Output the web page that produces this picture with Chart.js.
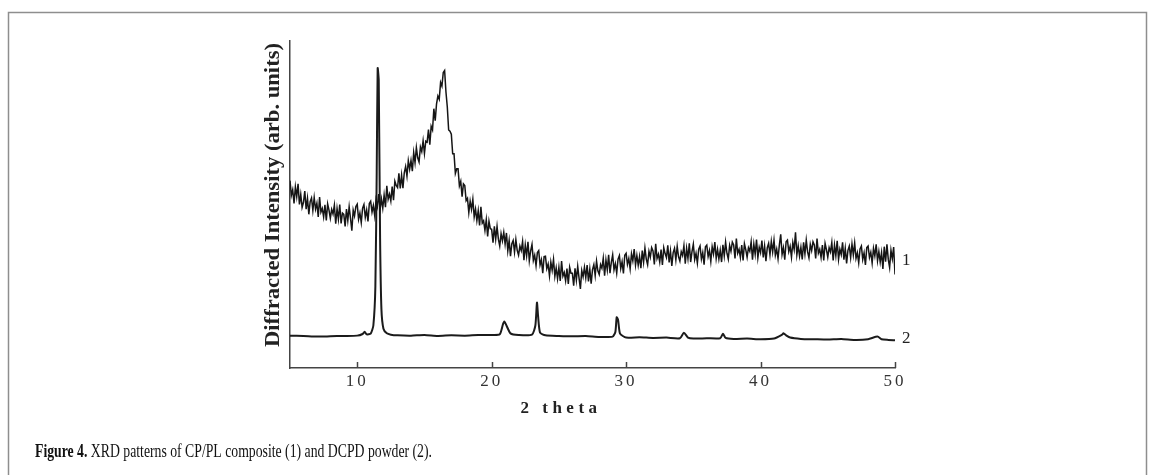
<!DOCTYPE html>
<html>
<head>
<meta charset="utf-8">
<script src="https://cdn.jsdelivr.net/npm/chart.js@4.4.0/dist/chart.umd.min.js"></script>
<style>
html, body { margin: 0; padding: 0; background: #fff; }
</style>
</head>
<body>
<canvas id="xrdChart" width="1154" height="475"></canvas>
<script>
// 2 theta grid of the composite scan (degrees)
var compositeStart = 5;
var compositeStep = 0.1;

// Curve 1: CP/PL composite, intensity (arb. units, 0-100), one row per degree
var compositeIntensity = [
    57.3, 52.8, 54.5, 50.3, 55.4, 52.4, 56.3, 50.0, 53.1, 49.1,
    50.6, 54.1, 48.6, 51.9, 47.0, 50.9, 52.0, 48.2, 52.1, 48.6,
    50.4, 46.2, 52.3, 47.7, 48.8, 46.2, 49.9, 45.1, 50.2, 48.3,
    45.8, 48.5, 47.1, 49.8, 44.1, 48.7, 45.5, 50.0, 44.2, 47.4,
    47.0, 43.3, 48.6, 45.1, 49.3, 45.8, 42.0, 48.3, 46.5, 49.4,
    50.1, 45.5, 47.4, 44.5, 48.9, 50.0, 46.1, 48.3, 44.8, 50.3,
    51.0, 47.7, 49.7, 46.6, 51.4, 49.4, 53.2, 48.5, 51.7, 48.9,
    52.9, 49.2, 55.7, 51.6, 53.2, 51.1, 55.5, 51.3, 57.1, 55.8,
    55.2, 59.5, 54.9, 59.0, 55.0, 59.7, 61.6, 58.7, 63.4, 60.8,
    63.5, 60.2, 65.9, 62.8, 67.4, 64.3, 63.0, 67.6, 66.2, 69.5,
    65.6, 69.4, 69.1, 72.9, 68.3, 73.9, 72.8, 79.3, 75.6, 80.8,
    83.2, 82.2, 87.3, 86.2, 90.4, 91.0, 84.4, 79.8, 72.8, 72.4,
    71.5, 65.5, 65.5, 59.5, 60.9, 60.9, 55.7, 57.1, 52.4, 56.3,
    55.8, 51.2, 51.9, 47.5, 51.0, 48.5, 51.6, 46.2, 48.6, 45.1,
    48.1, 43.6, 49.3, 44.3, 45.0, 42.1, 45.4, 40.2, 44.9, 42.6,
    42.4, 38.3, 43.3, 39.4, 43.3, 39.4, 37.3, 41.1, 38.9, 41.5,
    37.9, 41.3, 35.8, 39.0, 34.2, 38.0, 39.0, 35.4, 39.3, 36.0,
    34.5, 37.3, 35.9, 38.7, 33.0, 37.6, 34.3, 38.6, 32.8, 35.8,
    37.8, 32.9, 34.5, 31.3, 35.3, 35.9, 31.5, 33.1, 29.0, 34.1,
    34.2, 30.4, 31.8, 28.2, 32.4, 29.9, 33.2, 28.0, 30.6, 27.3,
    30.8, 26.6, 32.7, 28.1, 29.2, 26.7, 30.4, 25.7, 30.8, 29.0,
    29.0, 25.2, 30.5, 26.9, 31.1, 27.5, 24.2, 29.8, 27.9, 30.8,
    27.6, 31.5, 26.5, 30.2, 25.8, 30.1, 31.6, 28.3, 32.7, 29.7,
    28.6, 31.6, 30.5, 33.6, 28.2, 33.0, 30.0, 34.6, 29.0, 32.3,
    34.6, 30.0, 31.9, 29.0, 33.3, 34.4, 30.4, 32.5, 28.9, 34.5,
    35.1, 31.7, 33.5, 30.3, 34.9, 32.8, 36.4, 31.5, 34.4, 31.4,
    34.1, 30.5, 35.9, 32.4, 36.7, 33.3, 31.6, 35.7, 33.9, 36.8,
    35.8, 31.7, 38.0, 33.5, 34.8, 32.4, 36.2, 31.5, 36.8, 35.0,
    33.8, 37.5, 32.3, 35.8, 31.2, 35.3, 36.6, 33.1, 37.2, 34.0,
    32.7, 35.6, 34.4, 37.4, 31.9, 36.6, 33.5, 38.1, 32.4, 35.6,
    37.9, 33.2, 35.1, 32.1, 36.3, 37.3, 33.3, 35.3, 31.6, 37.1,
    37.6, 34.1, 35.9, 32.6, 37.1, 34.9, 38.5, 33.5, 36.3, 33.3,
    36.0, 32.4, 37.7, 34.3, 38.5, 35.1, 33.3, 37.5, 35.7, 38.5,
    37.6, 33.5, 39.6, 35.1, 36.3, 33.8, 37.6, 32.9, 38.0, 36.2,
    33.9, 36.8, 35.7, 38.6, 33.1, 37.9, 34.8, 39.3, 33.7, 36.9,
    35.3, 39.0, 33.8, 37.3, 32.7, 36.8, 38.1, 34.6, 38.7, 35.5,
    39.1, 34.5, 36.4, 33.4, 37.7, 40.9, 34.7, 36.8, 33.1, 38.6,
    39.1, 35.6, 37.2, 33.9, 38.4, 36.2, 41.5, 34.6, 37.4, 34.2,
    36.9, 33.2, 38.4, 34.9, 39.1, 35.5, 33.7, 37.8, 35.9, 38.6,
    37.6, 33.5, 39.6, 35.1, 36.3, 33.8, 37.6, 32.9, 38.1, 36.2,
    33.9, 36.8, 35.5, 38.4, 32.9, 37.6, 34.4, 38.9, 33.2, 36.3,
    34.7, 38.4, 33.1, 36.6, 32.0, 36.0, 37.3, 33.8, 37.9, 34.6,
    38.2, 33.5, 35.2, 32.2, 36.4, 37.3, 33.2, 35.2, 31.5, 36.8,
    37.3, 33.8, 35.4, 32.1, 36.6, 34.3, 37.8, 32.8, 35.6, 32.4,
    35.3, 30.3, 37.1, 32.5, 37.8, 33.2, 30.7, 36.0, 33.4, 37.0,
    28.6
];

// Curve 2: DCPD powder, 2 theta (degrees) and intensity
var dcpdTheta = [
    5, 6, 7, 8, 9, 10, 10.4, 10.55, 10.7, 11, 11.2, 11.35, 11.45, 11.52, 11.6, 11.7, 11.8, 11.95,
    12.2, 12.5, 13, 14, 15, 16, 17, 18, 19, 20, 20.6, 20.85, 20.95, 21.1, 21.4, 22, 23,
    23.25, 23.37, 23.45, 23.6, 24, 25, 26, 27, 28, 29, 29.2, 29.3, 29.4, 29.55, 30, 31,
    32, 33, 34, 34.3, 34.6, 35, 36, 37, 37.2, 37.4, 38, 39, 40, 41, 41.6, 41.7, 41.9,
    42.2, 43, 44, 45, 46, 47, 48, 48.7, 49, 49.5, 50
];
var dcpdIntensity = [
    9.9, 9.8, 9.6, 9.7, 9.8, 9.9, 10.4, 11.1, 10.3, 10.5, 13.0, 25.0, 60.0, 91.7, 88.0, 40.0, 18.0, 12.0,
    10.6, 10.2, 10.0, 9.9, 10.1, 9.8, 10.0, 9.9, 10.1, 10.1, 10.3, 13.5, 14.2, 13.0, 10.6, 10.1, 10.2,
    13.0, 20.0, 16.0, 10.8, 10.0, 9.8, 9.7, 9.8, 9.5, 9.6, 11.0, 15.5, 14.8, 10.5, 9.3, 9.4,
    9.2, 9.3, 9.1, 10.8, 9.3, 9.0, 9.1, 9.1, 10.5, 9.2, 8.9, 9.0, 8.8, 9.0, 10.2, 10.6, 10.0,
    9.3, 8.9, 8.8, 8.7, 8.9, 8.6, 8.8, 9.6, 8.8, 8.6, 8.5
];

var xTicks = [10, 20, 30, 40, 50];
var curveLabels = ['1', '2'];
var xTitle = '2 theta';
var yTitle = 'Diffracted Intensity (arb. units)';
var captionBold = 'Figure 4.';
var captionText = ' XRD patterns of CP/PL composite (1) and DCPD powder (2).';

var compositePoints = compositeIntensity.map(function (v, i) {
    return { x: compositeStart + i * compositeStep, y: v };
});
var dcpdPoints = dcpdTheta.map(function (t, i) {
    return { x: t, y: dcpdIntensity[i] };
});

var serif = '"Liberation Serif", "DejaVu Serif", serif';

// frame, titles, inward ticks, curve numbers and caption
var figureText = {
    id: 'figureText',
    beforeDraw: function (chart) {
        var ctx = chart.ctx;
        ctx.save();
        ctx.strokeStyle = '#8e8e8e';
        ctx.lineWidth = 1.5;
        ctx.beginPath();
        ctx.moveTo(8.5, 475);
        ctx.lineTo(8.5, 12.5);
        ctx.lineTo(1146.5, 12.5);
        ctx.lineTo(1146.5, 475);
        ctx.stroke();
        ctx.restore();
        // spaced-out tick digits like the original
        ctx.letterSpacing = '3px';
    },
    afterDraw: function (chart) {
        var ctx = chart.ctx;
        var sx = chart.scales.x;
        var sy = chart.scales.y;
        var area = chart.chartArea;
        ctx.save();
        ctx.letterSpacing = '0px';

        // tick marks pointing up into the plot
        ctx.strokeStyle = '#444';
        ctx.lineWidth = 1.5;
        xTicks.forEach(function (v) {
            var px = Math.round(sx.getPixelForValue(v)) + 0.5;
            ctx.beginPath();
            ctx.moveTo(px, area.bottom);
            ctx.lineTo(px, area.bottom - 6);
            ctx.stroke();
        });

        ctx.fillStyle = '#222';
        // y title, stretched along its length to match the figure
        ctx.save();
        ctx.translate(274, 195);
        ctx.rotate(-Math.PI / 2);
        ctx.font = 'bold 21px ' + serif;
        var wy = ctx.measureText(yTitle).width;
        ctx.scale(304 / wy, 1);
        ctx.textAlign = 'center';
        ctx.textBaseline = 'middle';
        ctx.fillText(yTitle, 0, 0);
        ctx.restore();

        // x title
        ctx.letterSpacing = '4.5px';
        ctx.font = 'bold 17px ' + serif;
        ctx.textAlign = 'center';
        ctx.textBaseline = 'middle';
        ctx.fillText(xTitle, 561, 409);
        ctx.letterSpacing = '0px';

        // curve numbers at the right end
        ctx.font = '17px ' + serif;
        ctx.textAlign = 'left';
        var xr = sx.getPixelForValue(50) + 7;
        ctx.fillText(curveLabels[0], xr, sy.getPixelForValue(33));
        ctx.fillText(curveLabels[1], xr, sy.getPixelForValue(9));

        // caption, condensed to the width of the original
        ctx.textBaseline = 'alphabetic';
        ctx.font = 'bold 18px ' + serif;
        var wb = ctx.measureText(captionBold).width;
        ctx.font = '18px ' + serif;
        var wt = ctx.measureText(captionText).width;
        var k = 397 / (wb + wt);
        ctx.save();
        ctx.translate(35, 457);
        ctx.scale(k, 1);
        ctx.fillStyle = '#111';
        ctx.font = 'bold 18px ' + serif;
        ctx.fillText(captionBold, 0, 0);
        ctx.font = '18px ' + serif;
        ctx.fillText(captionText, wb, 0);
        ctx.restore();
        ctx.restore();
    }
};

var ctx = document.getElementById('xrdChart').getContext('2d');

var xrdChart = new Chart(ctx, {
    type: 'line',
    data: {
        datasets: [{
            label: 'CP/PL composite (1)',
            data: compositePoints,
            borderColor: '#151515',
            borderWidth: 1.5,
            pointRadius: 0,
            tension: 0
        },
        {
            label: 'DCPD powder (2)',
            data: dcpdPoints,
            borderColor: '#1b1b1b',
            borderWidth: 2,
            pointRadius: 0,
            tension: 0.2
        }]
    },
    options: {
        responsive: false,
        animation: false,
        layout: {
            padding: { top: 41, right: 259, bottom: 0, left: 0 }
        },
        plugins: {
            legend: { display: false },
            tooltip: { enabled: false }
        },
        scales: {
            x: {
                type: 'linear',
                min: 5,
                max: 50,
                afterBuildTicks: function (scale) {
                    scale.ticks = xTicks.map(function (v) { return { value: v }; });
                },
                afterFit: function (scale) { scale.height = 107; },
                grid: { display: false, drawTicks: false },
                border: { display: true, color: '#444', width: 1.5 },
                ticks: {
                    autoSkip: false,
                    maxRotation: 0,
                    padding: 3,
                    color: '#333',
                    font: { family: serif, size: 17 }
                }
            },
            y: {
                min: 0,
                max: 100,
                afterFit: function (scale) { scale.width = 290; },
                grid: { display: false, drawTicks: false },
                border: { display: true, color: '#444', width: 1.5 },
                ticks: { display: false }
            }
        }
    },
    plugins: [figureText]
});
</script>
</body>
</html>
